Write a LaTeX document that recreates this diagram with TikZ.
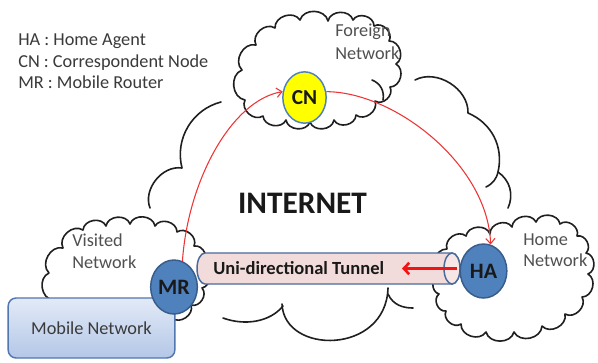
\documentclass[tikz,border=0pt]{standalone}
\usepackage{fontspec}
\setmainfont{Carlito}
\usetikzlibrary{shapes.geometric,arrows.meta}
\definecolor{hostblue}{HTML}{4F81BD}
\definecolor{hostborder}{HTML}{385D8A}
\definecolor{cnyellow}{HTML}{FFFF00}
\definecolor{tunnelfill}{HTML}{F2DCDB}
\definecolor{tunnelface}{HTML}{F6E6E6}
\definecolor{tunnelborder}{HTML}{4A6A9C}
\definecolor{boxtop}{HTML}{E2EAF7}
\definecolor{boxbottom}{HTML}{B4C7E7}
\definecolor{boxborder}{HTML}{5276B0}
\definecolor{arrowred}{HTML}{EE3434}
\definecolor{tunnelred}{HTML}{F01414}
\definecolor{legendgray}{HTML}{3A3A3A}
\definecolor{labelgray}{HTML}{505050}
\begin{document}
\begin{tikzpicture}[x=0.75pt,y=0.75pt,
  cloudline/.style={draw=black!88, line width=1.2pt, line join=round, line cap=round},
  puff/.style={bend left=75, looseness=1.15},
  legtext/.style={font=\fontsize{13.7}{16}\selectfont, text=legendgray, inner sep=0pt, anchor=base west},
  cloudlbl/.style={font=\fontsize{13.7}{16}\selectfont, text=labelgray, inner sep=0pt, anchor=base west},
  host/.style={ellipse, draw=hostborder, line width=1.1pt, fill=hostblue, inner sep=0pt,
    minimum width=35pt, minimum height=40.5pt, font=\fontsize{16.5}{18}\selectfont\bfseries, text=black!90},
  cnstyle/.style={ellipse, draw=hostblue, line width=1.1pt, fill=cnyellow, inner sep=0pt,
    minimum width=32.5pt, minimum height=38.5pt, font=\fontsize{16}{18}\selectfont\bfseries, text=black!90},
  redarrow/.style={draw=arrowred, line width=0.8pt, -{Straight Barb[length=4pt,width=7pt]}},
  tunarrow/.style={draw=tunnelred, line width=2pt, -{Straight Barb[length=4pt,width=8.5pt,line width=2pt]}},
  tunnelshape/.style={draw=tunnelborder, line width=1.1pt, fill=tunnelfill},
  mobilebox/.style={draw=boxborder, line width=1.1pt, rounded corners=6pt, top color=boxtop, bottom color=boxbottom,
    minimum width=125pt, minimum height=45pt, inner sep=0pt, font=\fontsize{13.7}{16}\selectfont, text=legendgray}
]
\useasboundingbox (0,0) rectangle (598,-362);
\fill[white] (0,0) rectangle (598,-362);

% INTERNET cloud (visible arcs)
\draw[cloudline] (150,-208) to[bend left=60] (182,-168) to[bend left=45] (221,-102);
\draw[cloudline] (415,-80) to[bend left=60] (468,-113) to[bend left=40] (498,-172) to[bend left=40] (508,-208);
\draw[cloudline] (498,-172) to[bend left=25] (486,-187);
\draw[cloudline] (388,-288) .. controls (386,-355) and (284,-355) .. (282,-304);
\draw[cloudline] (223,-318) .. controls (245,-326) and (270,-322) .. (283,-306);
\draw[cloudline] (388,-294) .. controls (393,-305) and (403,-308) .. (413,-308);

% Foreign network cloud
\filldraw[cloudline, fill=white] (245,-100) to[puff] (242,-70) to[puff] (256,-45) to[puff] (275,-28)
  to[puff] (300,-20) to[puff] (328,-21) to[puff] (353,-20) to[puff] (374,-26) to[puff] (389,-41)
  to[puff] (396,-64) to[puff] (390,-87) to[puff] (375,-101) to[puff] (356,-115) to[puff] (334,-120)
  to[puff] (310,-122) to[puff] (286,-120) to[puff] (263,-116) to[puff] (245,-100) -- cycle;
\draw[cloudline] (372,-80) to[bend left=40] (383,-100);

% Visited network cloud
\filldraw[cloudline, fill=white] (53,-300) to[puff] (49,-273) to[puff] (63,-248) to[puff] (83,-230)
  to[puff] (106,-226) to[puff] (130,-224) to[puff] (155,-226) to[puff] (177,-232) to[puff] (194,-246)
  to[puff] (203,-265) to[puff] (202,-288) to[puff] (191,-305) to[puff] (172,-318) to[puff] (150,-323)
  -- (100,-323) -- (60,-316) -- cycle;

% Home network cloud
\filldraw[cloudline, fill=white] (439,-275) to[puff] (447,-249) to[puff] (466,-236) to[puff] (490,-234)
  to[puff] (512,-227) to[puff] (536,-222) to[puff] (560,-224) to[puff] (577,-236) to[puff] (586,-253)
  to[puff] (588,-274) to[puff] (582,-297) to[puff] (565,-314) to[puff] (542,-326) to[puff] (514,-332)
  to[puff] (486,-332) to[puff] (461,-324) to[puff] (446,-311) to[puff] (439,-294) to[puff] (439,-275) -- cycle;

% Tunnel
\filldraw[tunnelshape] (205,-253) -- (452,-253) arc[start angle=90, end angle=-90, x radius=8, y radius=15.5]
  -- (205,-284) arc[start angle=270, end angle=90, x radius=8, y radius=15.5] -- cycle;
\filldraw[tunnelshape, fill=tunnelface] (452,-268.5) ellipse [x radius=8, y radius=15.5];
\node[font=\fontsize{13.9}{16}\selectfont\bfseries, text=black!90, inner sep=0pt, anchor=base west] (tunlbl) at (213,-274) {Uni-directional Tunnel};
\coordinate (ts) at (457,-268.5);
\coordinate (te) at (402,-268.5);
\draw[tunarrow] (ts) -- (te);

% Mobile network box
\node[mobilebox] (mobnet) at (91.5,-328) {Mobile Network};

% Hosts
\node[host] (mr) at (174,-287) {MR};
\node[host] (ha) at (483.5,-271) {HA};
\node[cnstyle] (cn) at (304.5,-97.5) {CN};

% Labels
\node[legtext] (leg1) at (18,-45) {HA : Home Agent};
\node[legtext] (leg2) at (18,-67) {CN : Correspondent Node};
\node[legtext] (leg3) at (18,-88.5) {MR : Mobile Router};
\node[cloudlbl] (fn1) at (335,-36.7) {Foreign};
\node[cloudlbl] (fn2) at (335,-59) {Network};
\node[cloudlbl] (vn1) at (72,-246.7) {Visited};
\node[cloudlbl] (vn2) at (72,-268) {Network};
\node[cloudlbl] (hn1) at (523,-245) {Home};
\node[cloudlbl] (hn2) at (523,-266.7) {Network};
\node[font=\fontsize{23.5}{26}\selectfont\bfseries, text=black!90, inner sep=0pt, anchor=base] (inet) at (302.5,-213) {INTERNET};

% Route arrows
\draw[redarrow] (mr.72) .. controls (188,-180) and (232,-100) .. (cn.165);
\draw[redarrow] (cn.15) .. controls (395,-92) and (488,-165) .. (ha.75);
\end{tikzpicture}
\end{document}
